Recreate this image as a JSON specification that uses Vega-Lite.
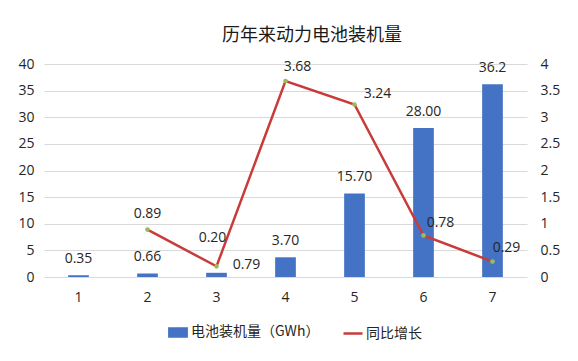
{
  "$schema": "https://vega.github.io/schema/vega-lite/v6.json",
  "width": 483,
  "height": 213,
  "autosize": {"type": "none"},
  "padding": {"left": 44, "top": 64, "right": 51, "bottom": 84},
  "background": "white",
  "title": {"text": "历年来动力电池装机量", "font": "Noto Sans CJK SC", "fontSize": 18, "fontWeight": "normal", "color": "#1a1a1a", "anchor": "start", "frame": "group", "dx": 178, "offset": 12},
  "data": {"values": [
    {"x": 1, "cap": 0.35, "capLabel": "0.35", "growth": null},
    {"x": 2, "cap": 0.66, "capLabel": "0.66", "growth": 0.89},
    {"x": 3, "cap": 0.79, "capLabel": "0.79", "growth": 0.20},
    {"x": 4, "cap": 3.70, "capLabel": "3.70", "growth": 3.68},
    {"x": 5, "cap": 15.70, "capLabel": "15.70", "growth": 3.24},
    {"x": 6, "cap": 28.00, "capLabel": "28.00", "growth": 0.78},
    {"x": 7, "cap": 36.2, "capLabel": "36.2", "growth": 0.29}
  ]},
  "config": {
    "view": {"stroke": null},
    "text": {"font": "Open Sans", "fontSize": 14, "color": "#262626"},
    "legend": {"labelFont": "Noto Sans CJK SC", "labelFontSize": 14, "labelColor": "#262626", "labelOffset": 3, "symbolSize": 300, "columnPadding": 18}
  },
  "encoding": {
    "x": {"field": "x", "type": "ordinal", "scale": {"paddingInner": 0.7, "paddingOuter": 0.35},
      "axis": {"labelAngle": 0, "title": null, "domain": false, "ticks": false, "labelFont": "Open Sans", "labelFontSize": 14, "labelColor": "#262626", "labelPadding": 13}}
  },
  "layer": [
    {
      "encoding": {
        "y": {"field": "cap", "type": "quantitative", "scale": {"domain": [0, 40]},
          "axis": {"values": [0, 5, 10, 15, 20, 25, 30, 35, 40], "title": null, "grid": true, "gridColor": "#D9D9D9", "domain": false, "ticks": false, "labelPadding": 10, "labelFont": "Open Sans", "labelFontSize": 14, "labelColor": "#262626"}}
      },
      "layer": [
        {"mark": {"type": "bar", "color": "#4472C4"},
         "encoding": {"color": {"datum": "电池装机量（GWh）", "type": "nominal",
           "scale": {"domain": ["电池装机量（GWh）", "同比增长"], "range": ["#4472C4", "#C93B3B"]},
           "legend": {"title": null, "orient": "none", "direction": "horizontal", "legendX": 124, "legendY": 258,
             "encode": {"symbols": {"update": {
               "shape": {"signal": "datum.value === '同比增长' ? 'M-1.1,0H1.1' : 'M-1,-0.47H1V0.47H-1Z'"},
               "fill": {"signal": "datum.value === '同比增长' ? 'transparent' : '#4472C4'"},
               "stroke": {"signal": "datum.value === '同比增长' ? '#C93B3B' : 'transparent'"},
               "strokeWidth": {"value": 2.5},
               "opacity": {"value": 1}
             }}}}}}},
        {"transform": [{"filter": "datum.x != 3"}],
         "mark": {"type": "text", "baseline": "middle", "dy": -16},
         "encoding": {"text": {"field": "capLabel"}}},
        {"transform": [{"filter": "datum.x == 3"}],
         "mark": {"type": "text", "baseline": "middle", "dx": 30, "dy": -8},
         "encoding": {"text": {"field": "capLabel"}}}
      ]
    },
    {
      "transform": [{"filter": "datum.growth != null"}],
      "encoding": {
        "y": {"field": "growth", "type": "quantitative", "scale": {"domain": [0, 4]},
          "axis": {"orient": "right", "values": [0, 0.5, 1, 1.5, 2, 2.5, 3, 3.5, 4], "format": "~g", "title": null, "grid": false, "domain": false, "ticks": false, "labelPadding": 13, "labelFont": "Open Sans", "labelFontSize": 14, "labelColor": "#262626"}}
      },
      "layer": [
        {"mark": {"type": "line", "strokeWidth": 2.5},
         "encoding": {"color": {"datum": "同比增长", "type": "nominal"}}},
        {"mark": {"type": "point", "filled": true, "size": 22, "color": "#9BBB59", "opacity": 1}},
        {"transform": [{"filter": "datum.x == 2"}],
         "mark": {"type": "text", "baseline": "middle", "dy": -16},
         "encoding": {"text": {"field": "growth", "format": ".2f"}}},
        {"transform": [{"filter": "datum.x == 3"}],
         "mark": {"type": "text", "baseline": "middle", "dx": -4, "dy": -28},
         "encoding": {"text": {"field": "growth", "format": ".2f"}}},
        {"transform": [{"filter": "datum.x == 4"}],
         "mark": {"type": "text", "baseline": "middle", "dx": 12, "dy": -14},
         "encoding": {"text": {"field": "growth", "format": ".2f"}}},
        {"transform": [{"filter": "datum.x == 5"}],
         "mark": {"type": "text", "baseline": "middle", "dx": 23, "dy": -10},
         "encoding": {"text": {"field": "growth", "format": ".2f"}}},
        {"transform": [{"filter": "datum.x == 6"}],
         "mark": {"type": "text", "baseline": "middle", "dx": 17, "dy": -12},
         "encoding": {"text": {"field": "growth", "format": ".2f"}}},
        {"transform": [{"filter": "datum.x == 7"}],
         "mark": {"type": "text", "baseline": "middle", "dx": 14, "dy": -14},
         "encoding": {"text": {"field": "growth", "format": ".2f"}}}
      ]
    }
  ],
  "resolve": {"scale": {"y": "independent"}}
}
